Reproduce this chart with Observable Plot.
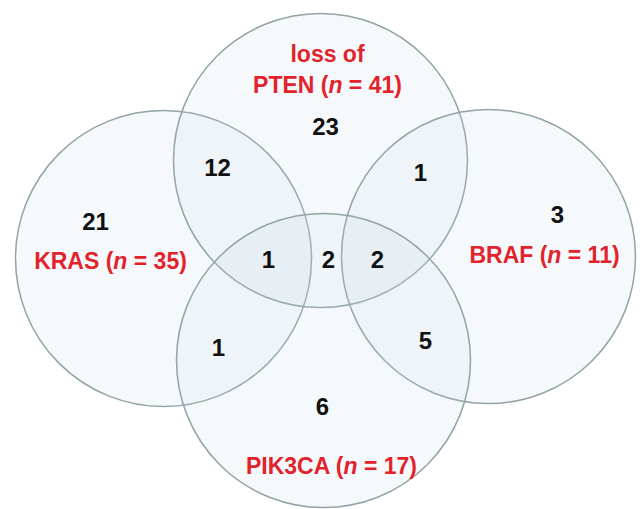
<!DOCTYPE html>
<html>
<head>
<meta charset="utf-8">
<script src="https://cdn.jsdelivr.net/npm/d3@7"></script>
<script src="https://cdn.jsdelivr.net/npm/@observablehq/plot@0.6"></script>
<style>
  html, body { margin: 0; padding: 0; background: #fff; }
  #chart svg { display: block; }
</style>
</head>
<body>
<div id="chart"></div>
<script>
// ---- Data ----
const setNames   = ["KRAS", "PTEN", "BRAF", "PIK3CA"];
const setPrefix  = ["", "loss of", "", ""];
const setTotals  = [35, 41, 11, 17];

const regionNames  = ["PTEN only", "KRAS+PTEN", "PTEN+BRAF", "KRAS only", "BRAF only",
                      "KRAS+PTEN+PIK3CA", "PTEN+PIK3CA", "PTEN+BRAF+PIK3CA",
                      "KRAS+PIK3CA", "BRAF+PIK3CA", "PIK3CA only"];
const regionCounts = [23, 12, 1, 21, 3, 1, 2, 2, 1, 5, 6];

// ---- Layout (diagram geometry, in the 640x509 frame) ----
const circleCX = [163, 320, 488, 323];
const circleCY = [258, 160, 256, 360];
const circleR  = [148, 147, 147, 147];
const setLabelX = [110, 327, 544, 331];
const setLabelY = [258, 67, 252, 463];
const regionX = [325, 217, 420, 95, 557, 268, 328, 377, 218, 425, 322];
const regionY = [127, 168, 173, 222, 215, 260, 260, 260, 348, 341, 407];

const circles = setNames.map((name, i) => ({
  name, cx: circleCX[i], cy: circleCY[i], r: circleR[i]
}));
const setLabels = setNames.map((name, i) => ({
  text: (setPrefix[i] ? setPrefix[i] + "\n" : "") + `${name} (n = ${setTotals[i]})`,
  x: setLabelX[i], y: setLabelY[i]
}));
const regions = regionNames.map((name, i) => ({
  name, count: regionCounts[i], x: regionX[i], y: regionY[i]
}));

const font = "'Liberation Sans', Arial, Helvetica, sans-serif";

const chart = Plot.plot({
  width: 640,
  height: 509,
  margin: 0,
  style: {background: "#ffffff", fontFamily: font},
  x: {domain: [0, 640], range: [0, 640], axis: null},
  y: {domain: [0, 509], range: [0, 509], axis: null},
  r: {type: "identity"},
  marks: [
    Plot.dot(circles, {
      x: "cx", y: "cy", r: "r",
      fill: "#c4d8e4", fillOpacity: 0.15,
      stroke: "#92a4a7", strokeWidth: 1.5
    }),
    Plot.text(regions, {
      x: "x", y: "y", text: d => String(d.count),
      fontSize: 24, fontWeight: "bold", fill: "#111111", fontFamily: font
    }),
    Plot.text(setLabels, {
      x: "x", y: "y", text: "text",
      fontSize: 23, fontWeight: "bold", fill: "#e2232b", fontFamily: font,
      lineHeight: 1.36
    })
  ]
});

// italicize the "n" in "(n = ...)"
chart.querySelectorAll("text, tspan").forEach(el => {
  if (el.children.length) return;
  const t = el.textContent;
  const m = t.match(/^(.*\()n( = .*)$/);
  if (!m) return;
  el.textContent = "";
  el.append(m[1]);
  const it = document.createElementNS("http://www.w3.org/2000/svg", "tspan");
  it.setAttribute("font-style", "italic");
  it.textContent = "n";
  el.append(it);
  el.append(m[2]);
});

document.getElementById("chart").append(chart);
</script>
</body>
</html>
